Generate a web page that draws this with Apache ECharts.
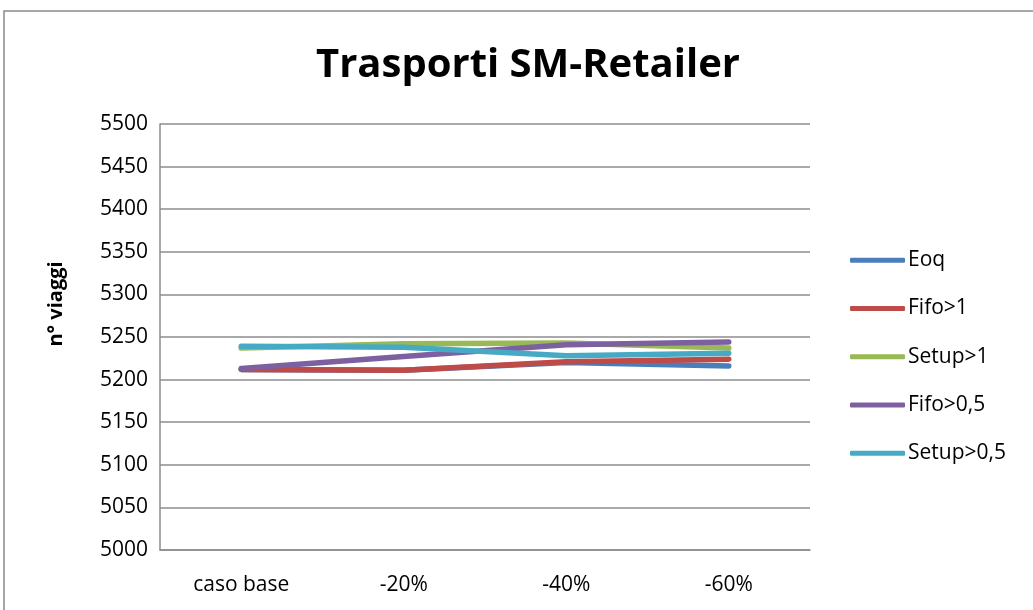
<!DOCTYPE html>
<html>
<head>
<meta charset="utf-8">
<script src="https://cdn.jsdelivr.net/npm/echarts@6/dist/echarts.min.js"></script>
<style>
  html, body { margin: 0; padding: 0; background: #fff; }
  #chart { width: 1033px; height: 610px; }
</style>
</head>
<body>
<div id="chart"></div>
<script>
// Number of trips SM -> Retailer for each scenario
const categories = ['caso base', '-20%', '-40%', '-60%'];
const seriesNames = ['Eoq', 'Fifo>1', 'Setup>1', 'Fifo>0,5', 'Setup>0,5'];
const eoq      = [5212, 5211, 5220, 5216];
const fifo1    = [5212, 5211, 5221, 5224];
const setup1   = [5237, 5242, 5243, 5237];
const fifo05   = [5213, 5227, 5241, 5244];
const setup05  = [5239, 5238, 5228, 5231];
const yTicks   = { min: 5000, max: 5500, step: 50 };

const values = [eoq, fifo1, setup1, fifo05, setup05];
const colors = ['#4A7EBB', '#BE4B48', '#98B954', '#7D60A0', '#46AAC5'];
const FONT = '"Open Sans", "Liberation Sans", sans-serif';
const FS = 21;
const gridColor = '#8c8c8c';

const chart = echarts.init(document.getElementById('chart'), null, { renderer: 'canvas' });

chart.setOption({
  backgroundColor: '#fff',
  animation: false,
  title: {
    text: 'Trasporti SM-Retailer',
    left: 528,
    textAlign: 'center',
    top: 46,
    padding: 0,
    textStyle: { fontFamily: FONT, fontWeight: 'bold', fontSize: 40, color: '#000' }
  },
  graphic: [{
    type: 'rect',
    shape: { x: 4, y: 11, width: 1100, height: 700 },
    style: { fill: 'none', stroke: '#8a8a8a', lineWidth: 1.5 },
    silent: true
  }],
  legend: {
    orient: 'vertical',
    left: 850,
    top: 248,
    padding: 0,
    itemWidth: 55,
    itemHeight: 5,
    itemGap: 24,
    icon: 'roundRect',
    data: seriesNames,
    textStyle: { fontFamily: FONT, fontSize: FS, color: '#000', lineHeight: 24.3, padding: [0, 0, 0, -2] }
  },
  grid: { left: 160, right: 223, top: 124, bottom: 60, containLabel: false },
  xAxis: {
    type: 'category',
    data: categories,
    boundaryGap: true,
    axisLine: { lineStyle: { color: gridColor, width: 1.5 } },
    axisTick: { show: false },
    axisLabel: { fontFamily: FONT, fontSize: FS, color: '#000', margin: 25 },
    splitLine: { show: false }
  },
  yAxis: {
    type: 'value',
    min: yTicks.min,
    max: yTicks.max,
    interval: yTicks.step,
    name: 'n° viaggi',
    nameLocation: 'middle',
    nameRotate: 90,
    nameGap: 94,
    nameTextStyle: { fontFamily: FONT, fontWeight: 'bold', fontSize: 20, color: '#000', padding: [0, 0, 0, 66] },
    axisLine: { show: true, lineStyle: { color: gridColor, width: 1.5 } },
    axisTick: { show: false },
    axisLabel: { fontFamily: FONT, fontSize: FS, color: '#000', margin: 12, formatter: v => String(v) },
    splitLine: { lineStyle: { color: gridColor, width: 1.5 } }
  },
  series: seriesNames.map((name, i) => ({
    name,
    type: 'line',
    data: values[i],
    symbol: 'none',
    color: colors[i],
    lineStyle: { width: 5.5, cap: 'round', join: 'round', color: colors[i] }
  }))
});
</script>
</body>
</html>
